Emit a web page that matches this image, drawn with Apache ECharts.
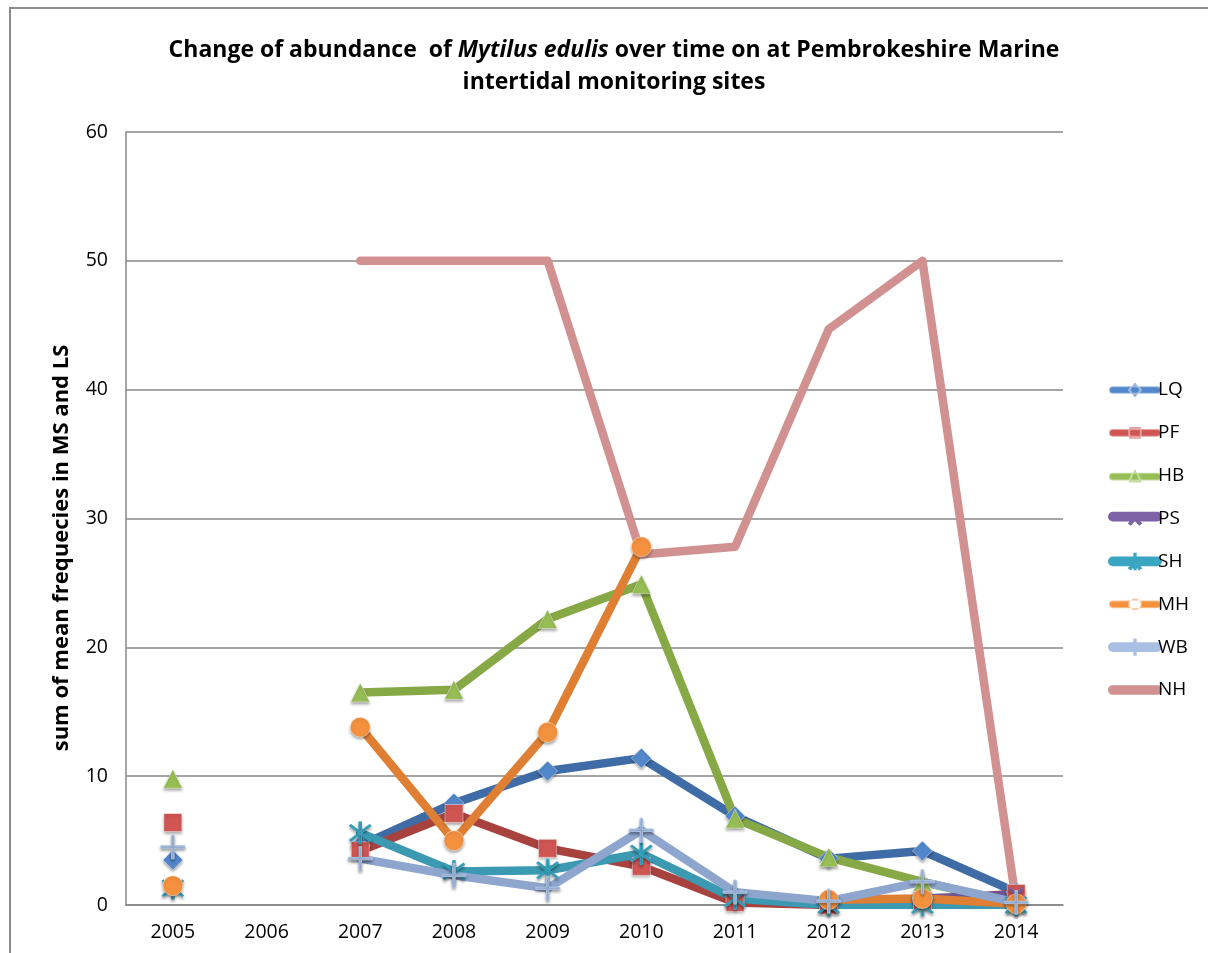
<!DOCTYPE html>
<html>
<head>
<meta charset="utf-8">
<script src="https://cdn.jsdelivr.net/npm/echarts@6/dist/echarts.min.js"></script>
<style>
  html, body { margin: 0; padding: 0; background: #fff; }
  #main { width: 1208px; height: 953px; }
</style>
</head>
<body>
<div id="main"></div>
<script>
// years on the x axis
var years = ['2005', '2006', '2007', '2008', '2009', '2010', '2011', '2012', '2013', '2014'];
var yTicks = [0, 10, 20, 30, 40, 50, 60];
var sites = ['LQ', 'PF', 'HB', 'PS', 'SH', 'MH', 'WB', 'NH'];

// sum of mean frequencies per site (null = not surveyed)
var LQ = [3.5, null, 4.6, 7.9, 10.4, 11.4, 6.9, 3.6, 4.2, 1.0];
var PF = [6.4, null, 4.2, 7.1, 4.4, 3.0, 0.2, 0.0, 0.3, 0.9];
var HB = [9.8, null, 16.5, 16.7, 22.2, 24.9, 6.7, 3.7, 1.8, 0.1];
var PS = [null, null, null, null, null, null, null, 0.1, 0.5, 0.8];
var SH = [1.3, null, 5.6, 2.6, 2.7, 4.0, 0.5, 0.0, 0.0, 0.0];
var MH = [1.5, null, 13.8, 5.0, 13.4, 27.8, null, 0.4, 0.5, 0.1];
var WB = [4.5, null, 3.6, 2.3, 1.3, 5.8, 1.0, 0.3, 1.8, 0.2];
var NH = [null, null, 50, 50, 50, 27.2, 27.8, 44.7, 50, 0.2];

var FONT = '"Open Sans"';

var plusPath = 'path://M-1,-10L1,-10L1,-1L10,-1L10,1L1,1L1,10L-1,10L-1,1L-10,1L-10,-1L-1,-1Z';
var starPath = 'path://M-0.9,-10L0.9,-10L0.9,10L-0.9,10Z' +
  'M-7.7,-6.5L-6.5,-7.7L7.7,6.5L6.5,7.7Z' +
  'M6.5,-7.7L7.7,-6.5L-6.5,7.7L-7.7,6.5Z';

// legend icons: thick line with the marker poking out
var bar = 'M3,4L49,4A4,4 0 0,1 49,12L3,12A4,4 0 0,1 3,4Z';
var legendIcons = {
  LQ: 'path://' + bar + 'M26,0L32,8L26,16L20,8Z',
  PF: 'path://' + bar + 'M20,2L32,2L32,14L20,14Z',
  HB: 'path://' + bar + 'M26,0L33,14L19,14Z',
  PS: 'path://' + bar + 'M20,15L21.5,16L32,5L30.5,4ZM32,15L30.5,16L20,5L21.5,4Z',
  SH: 'path://' + bar + 'M20,15L21.5,16L32,5L30.5,4ZM32,15L30.5,16L20,5L21.5,4ZM25.3,0L26.7,0L26.7,16L25.3,16Z',
  MH: 'path://' + bar + 'M20,8A6,6 0 1,0 32,8A6,6 0 1,0 20,8Z',
  WB: 'path://' + bar + 'M25.3,0L26.7,0L26.7,16L25.3,16Z',
  NH: 'path://' + bar + 'M0,8L0.1,8Z'
};

var chart = echarts.init(document.getElementById('main'));

function mkSeries(name, data, lineColor, fillColor, symbol, size, rotate) {
  var solid = symbol === 'circle' || symbol === 'rect' || symbol === 'diamond' || symbol === 'triangle';
  return {
    name: name,
    type: 'line',
    data: data,
    symbol: symbol,
    symbolSize: size,
    symbolRotate: rotate || 0,
    showAllSymbol: true,
    connectNulls: false,
    animation: false,
    lineStyle: { width: 8.5, color: lineColor, cap: 'round', join: 'round' },
    itemStyle: {
      color: fillColor,
      borderColor: solid ? 'rgba(255,255,255,0.45)' : fillColor,
      borderWidth: 1,
      shadowColor: 'rgba(0,0,0,0.35)',
      shadowBlur: 3,
      shadowOffsetY: 2
    },
    emphasis: { disabled: true }
  };
}

var option = {
  backgroundColor: '#fff',
  textStyle: { fontFamily: FONT },
  graphic: [
    {
      type: 'rect',
      shape: { x: 10, y: 8, width: 1400, height: 1200 },
      style: { fill: 'none', stroke: '#8c8c8c', lineWidth: 2 },
      silent: true
    },
    {
      type: 'text',
      x: 614,
      y: 66,
      style: {
        text: '{b|Change of abundance  of }{i|Mytilus edulis}{b| over time on at Pembrokeshire Marine}\n{b|intertidal monitoring sites}',
        align: 'center',
        verticalAlign: 'middle',
        rich: {
          b: { fontFamily: FONT, fontWeight: 'bold', fontSize: 23, fill: '#000', lineHeight: 32, align: 'center' },
          i: { fontFamily: FONT, fontWeight: 'bold', fontStyle: 'italic', fontSize: 23, fill: '#000', lineHeight: 32, align: 'center' }
        }
      }
    },
    {
      type: 'text',
      x: 62,
      y: 548,
      rotation: Math.PI / 2,
      style: {
        text: 'sum of mean frequecies in MS and LS',
        font: 'bold 22px "Open Sans"',
        fill: '#000',
        align: 'center',
        verticalAlign: 'middle'
      }
    }
  ],
  legend: {
    orient: 'vertical',
    left: 1103,
    top: 375,
    itemWidth: 52,
    itemHeight: 16,
    itemGap: 22.86,
    textStyle: { fontFamily: FONT, fontSize: 19, color: '#000', lineHeight: 20, padding: [0, 0, 0, -8] },
    data: sites.map(function (s) { return { name: s, icon: legendIcons[s] }; })
  },
  grid: { left: 126, top: 132, width: 937, height: 773 },
  xAxis: {
    type: 'category',
    data: years,
    boundaryGap: true,
    axisLine: { show: true, lineStyle: { color: '#878787', width: 1.5 } },
    axisTick: { show: false },
    axisLabel: { color: '#000', fontSize: 19.5, margin: 17, fontFamily: FONT },
    splitLine: { show: false }
  },
  yAxis: {
    type: 'value',
    min: yTicks[0],
    max: yTicks[yTicks.length - 1],
    interval: 10,
    axisLine: { show: true, lineStyle: { color: '#878787', width: 1.5 } },
    axisTick: { show: false },
    axisLabel: { color: '#000', fontSize: 19.5, margin: 18, fontFamily: FONT },
    splitLine: { show: true, lineStyle: { color: '#878787', width: 1.5 } }
  },
  series: [
    mkSeries('LQ', LQ, '#3F6CA6', '#5288CB', 'diamond', 20),
    mkSeries('PF', PF, '#A8423F', '#CF5653', 'rect', 18),
    mkSeries('HB', HB, '#86A845', '#97BE55', 'triangle', 19),
    mkSeries('PS', PS, '#6E5494', '#7D62A6', plusPath, 18, 45),
    mkSeries('SH', SH, '#3B99B1', '#3BA6C2', starPath, 22),
    mkSeries('MH', MH, '#DF7F33', '#F4913F', 'circle', 20),
    mkSeries('WB', WB, '#8EA6CE', '#A9C0E4', plusPath, 24),
    mkSeries('NH', NH, '#D09190', '#D09190', 'none', 0)
  ]
};

chart.setOption(option);

window.addEventListener('resize', function () {
  chart.resize();
});
</script>
</body>
</html>
